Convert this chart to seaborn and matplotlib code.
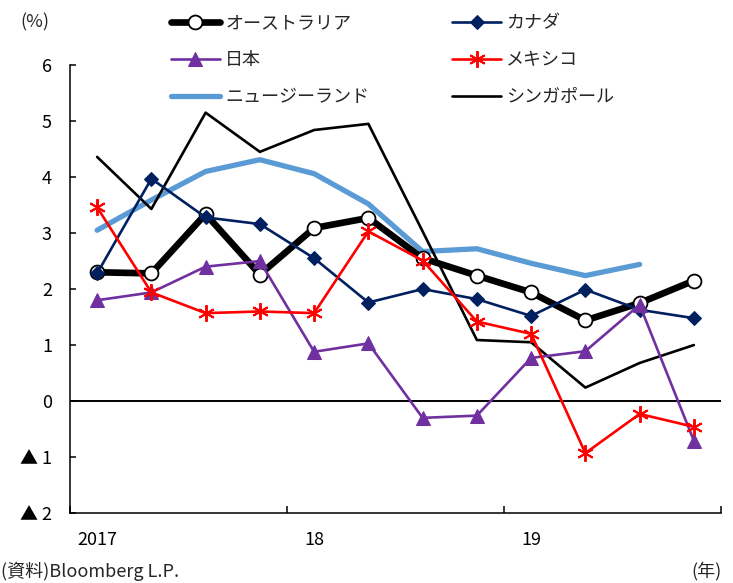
import numpy as np
import pandas as pd
import matplotlib
matplotlib.use("Agg")
import matplotlib.pyplot as plt
from matplotlib.ticker import FixedLocator, FixedFormatter
import seaborn as sns

# Quarterly real GDP growth (% y/y), 2017Q1 - 2019Q4
quarters = ["2017Q1", "2017Q2", "2017Q3", "2017Q4",
            "2018Q1", "2018Q2", "2018Q3", "2018Q4",
            "2019Q1", "2019Q2", "2019Q3", "2019Q4"]
australia = [2.29, 2.27, 3.33, 2.25, 3.08, 3.26, 2.54, 2.23, 1.93, 1.43, 1.74, 2.14]
canada = [2.27, 3.96, 3.27, 3.15, 2.54, 1.75, 1.99, 1.81, 1.51, 1.98, 1.62, 1.47]
japan = [1.79, 1.93, 2.39, 2.49, 0.87, 1.02, -0.31, -0.27, 0.76, 0.88, 1.71, -0.72]
mexico = [3.45, 1.93, 1.56, 1.59, 1.56, 3.02, 2.50, 1.41, 1.19, -0.94, -0.24, -0.47]
new_zealand = [3.04, 3.58, 4.09, 4.30, 4.05, 3.51, 2.66, 2.71, 2.45, 2.23, 2.43, np.nan]
singapore = [4.35, 3.42, 5.14, 4.44, 4.83, 4.94, 3.02, 1.08, 1.04, 0.23, 0.67, 0.99]

year_labels = ["2017", "18", "19"]
y_ticks = [6, 5, 4, 3, 2, 1, 0, -1, -2]
y_tick_labels = ["6", "5", "4", "3", "2", "1", "0", "▲ 1", "▲ 2"]

sns.set_theme(style="white")
plt.rcParams["font.family"] = ["Noto Sans CJK JP", "DejaVu Sans"]
plt.rcParams["axes.unicode_minus"] = False

fig = plt.figure(figsize=(7.33, 5.83), dpi=100)
ax = fig.add_axes([70 / 733, 1 - 512.5 / 583, (721 - 70) / 733, (512.5 - 64.5) / 583])

x = np.arange(len(quarters)) + 0.5
df = pd.DataFrame({"x": x, "オーストラリア": australia, "カナダ": canada, "日本": japan,
                   "メキシコ": mexico, "ニュージーランド": new_zealand, "シンガポール": singapore})

styles = {
    "オーストラリア": dict(color="black", lw=4.8, marker="o", ms=10, mfc="white",
                         mec="black", mew=1.3, zorder=3),
    "カナダ": dict(color="#002060", lw=1.9, marker="D", ms=7, mec="#002060", zorder=4),
    "日本": dict(color="#7030A0", lw=1.9, marker="^", ms=10, mec="#7030A0", zorder=4),
    "メキシコ": dict(color="#FF0000", lw=1.9, marker=(6, 2, 0), ms=12, mec="#FF0000",
                   mew=1.4, zorder=4),
    "ニュージーランド": dict(color="#5B9BD5", lw=3.8, zorder=2),
    "シンガポール": dict(color="black", lw=1.9, zorder=2),
}

handles = {}
for name, kw in styles.items():
    sns.lineplot(data=df, x="x", y=name, ax=ax, label=name, legend=False, **kw)
    handles[name] = ax.get_lines()[-1]

ax.axhline(0, color="black", lw=1.4, zorder=1)

ax.set_xlim(0, 12)
ax.set_ylim(-2, 6)
ax.set_xlabel("")
ax.set_ylabel("")

# year boundaries as inward ticks; year names centred under the first quarter
ax.xaxis.set_major_locator(FixedLocator([0, 4, 8, 12]))
ax.xaxis.set_major_formatter(FixedFormatter(["", "", "", ""]))
ax.xaxis.set_minor_locator(FixedLocator([0.5, 4.5, 8.5]))
ax.xaxis.set_minor_formatter(FixedFormatter(year_labels))
ax.tick_params(axis="x", which="major", direction="in", length=5, width=1.1,
               color="black", bottom=True)
ax.tick_params(axis="x", which="minor", length=0, pad=13, labelsize=13,
               labelcolor="black")

ax.set_yticks(y_ticks)
ax.set_yticklabels(y_tick_labels)
ax.tick_params(axis="y", direction="in", length=4, width=1.1, color="black",
               left=True, pad=13, labelsize=13, labelcolor="black")

for side in ("top", "right"):
    ax.spines[side].set_visible(False)
for side in ("left", "bottom"):
    ax.spines[side].set_color("black")
    ax.spines[side].set_linewidth(1.1)

order = ["オーストラリア", "日本", "ニュージーランド", "カナダ", "メキシコ", "シンガポール"]
fig.legend([handles[n] for n in order], order, ncol=2, loc="upper left",
           bbox_to_anchor=(171 / 733, 1 - 14 / 583), frameon=False, fontsize=13,
           handlelength=2.7, handletextpad=0.3, labelspacing=1.06,
           columnspacing=4.6, borderpad=0, borderaxespad=0)

fig.text(20 / 733, 1 - 22 / 583, "(%)", fontsize=13, va="center", ha="left")
fig.text(0.002, 1 - 571 / 583, "(資料)Bloomberg L.P.", fontsize=13, va="center", ha="left")
fig.text(722 / 733, 1 - 571 / 583, "(年)", fontsize=13, va="center", ha="right")

fig.savefig("out.png", dpi=100, facecolor="white")
